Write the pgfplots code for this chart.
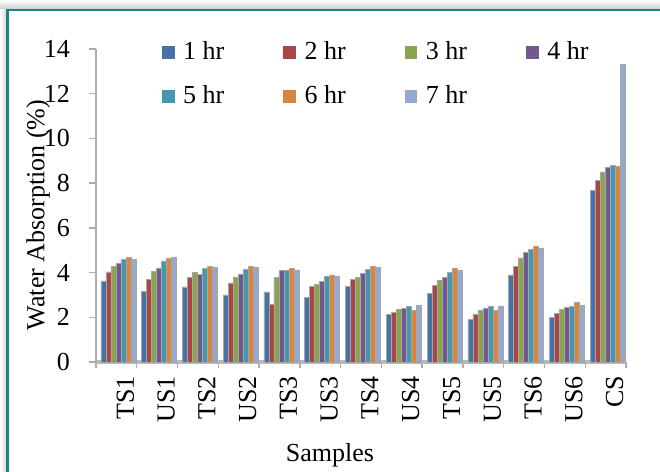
\documentclass[border=0pt]{standalone}
\usepackage{fontspec}
\setmainfont{Liberation Serif}
\usepackage{pgfplots}
\usepackage{pgfplotstable}
\pgfplotsset{compat=1.18}
\definecolor{c1}{HTML}{4572A7}
\definecolor{c2}{HTML}{AA4643}
\definecolor{c3}{HTML}{89A54E}
\definecolor{c4}{HTML}{71588F}
\definecolor{c5}{HTML}{4198AF}
\definecolor{c6}{HTML}{DB843D}
\definecolor{c7}{HTML}{93A9CF}
\definecolor{frame}{HTML}{1A8585}
\pgfplotstableread{
x h1 h2 h3 h4 h5 h6 h7
0 3.63 4.03 4.27 4.42 4.58 4.67 4.60
1 3.16 3.70 4.05 4.21 4.52 4.66 4.70
2 3.36 3.79 4.00 3.91 4.18 4.27 4.24
3 3.00 3.54 3.81 3.94 4.15 4.27 4.24
4 3.14 2.59 3.78 4.08 4.08 4.20 4.12
5 2.89 3.38 3.47 3.62 3.84 3.90 3.85
6 3.38 3.71 3.79 3.97 4.15 4.29 4.24
7 2.13 2.23 2.34 2.41 2.48 2.32 2.53
8 3.07 3.42 3.65 3.79 4.00 4.17 4.11
9 1.92 2.14 2.32 2.40 2.47 2.32 2.51
10 3.90 4.29 4.66 4.90 5.03 5.16 5.10
11 2.00 2.16 2.34 2.43 2.50 2.65 2.54
12 7.69 8.13 8.50 8.72 8.81 8.75 13.30
}\data
\pgfplotsset{
  mybar/.style={ybar, bar width=2.5pt, draw=gray!70, line width=0.3pt,
    legend image code/.code={\fill[##1, draw=none] (0pt,-3.2pt) rectangle (6.4pt,3.2pt); \path (8.5pt,0pt);}},
}
\begin{document}
\begin{tikzpicture}[x=1pt,y=1pt]
\useasboundingbox (0,0) rectangle (330,236);
\shade[top color=white, bottom color=gray!45] (0,231) rectangle (336,236);
\shade[left color=white, right color=gray!35] (0,-5) rectangle (3.75,231);
\fill[white] (3.75,-5) rectangle (336,231);
\draw[frame, line width=1.1pt] (3.75,-5) rectangle (336,231);
\begin{axis}[
  at={(48pt,55pt)}, anchor=south west,
  width=265pt, height=156.5pt, scale only axis,
  xmin=-0.5, xmax=12.5, ymin=0, ymax=14,
  axis lines*=left,
  y axis line style={gray!65, line width=0.9pt},
  x axis line style={gray!55, line width=1.6pt},
  xtick={0,...,12},
  xticklabels={TS1,US1,TS2,US2,TS3,US3,TS4,US4,TS5,US5,TS6,US6,CS},
  major x tick style={draw=none},
  minor xtick={-0.5,0.5,...,12.5},
  ytick={0,2,...,14},
  tick align=outside,
  major tick length=3.5pt, minor tick length=3pt,
  tick style={gray!65, line width=0.7pt},
  xticklabel style={rotate=90, anchor=east, font=\fontsize{13}{15}\selectfont, yshift=-4.5pt},
  yticklabel style={font=\fontsize{13}{15}\selectfont, xshift=-6pt},
  /pgf/number format/assume math mode=true,
  legend style={at={(0.112,1.05)}, anchor=north west, draw=none, fill=none,
    font=\fontsize{13}{15}\selectfont, row sep=7.5pt},
  legend columns=4,
  legend cell align=left,
  /tikz/every even column/.append style={column sep=27.5pt},
]
\addplot[mybar, fill=c1, bar shift=-6.5pt] table[x=x,y=h1]{\data};
\addplot[mybar, fill=c2, bar shift=-4pt] table[x=x,y=h2]{\data};
\addplot[mybar, fill=c3, bar shift=-1.5pt] table[x=x,y=h3]{\data};
\addplot[mybar, fill=c4, bar shift=1pt] table[x=x,y=h4]{\data};
\addplot[mybar, fill=c5, bar shift=3.5pt] table[x=x,y=h5]{\data};
\addplot[mybar, fill=c6, bar shift=6pt] table[x=x,y=h6]{\data};
\addplot[mybar, fill=c7, bar shift=8.5pt] table[x=x,y=h7]{\data};
\legend{1 hr,2 hr,3 hr,4 hr,5 hr,6 hr,7 hr}
\end{axis}
\node[rotate=90, font=\fontsize{13}{15}\selectfont] at (19,128.5) {Water Absorption (\%)};
\node[font=\fontsize{13}{15}\selectfont] at (165,8.5) {Samples};
\end{tikzpicture}
\end{document}
